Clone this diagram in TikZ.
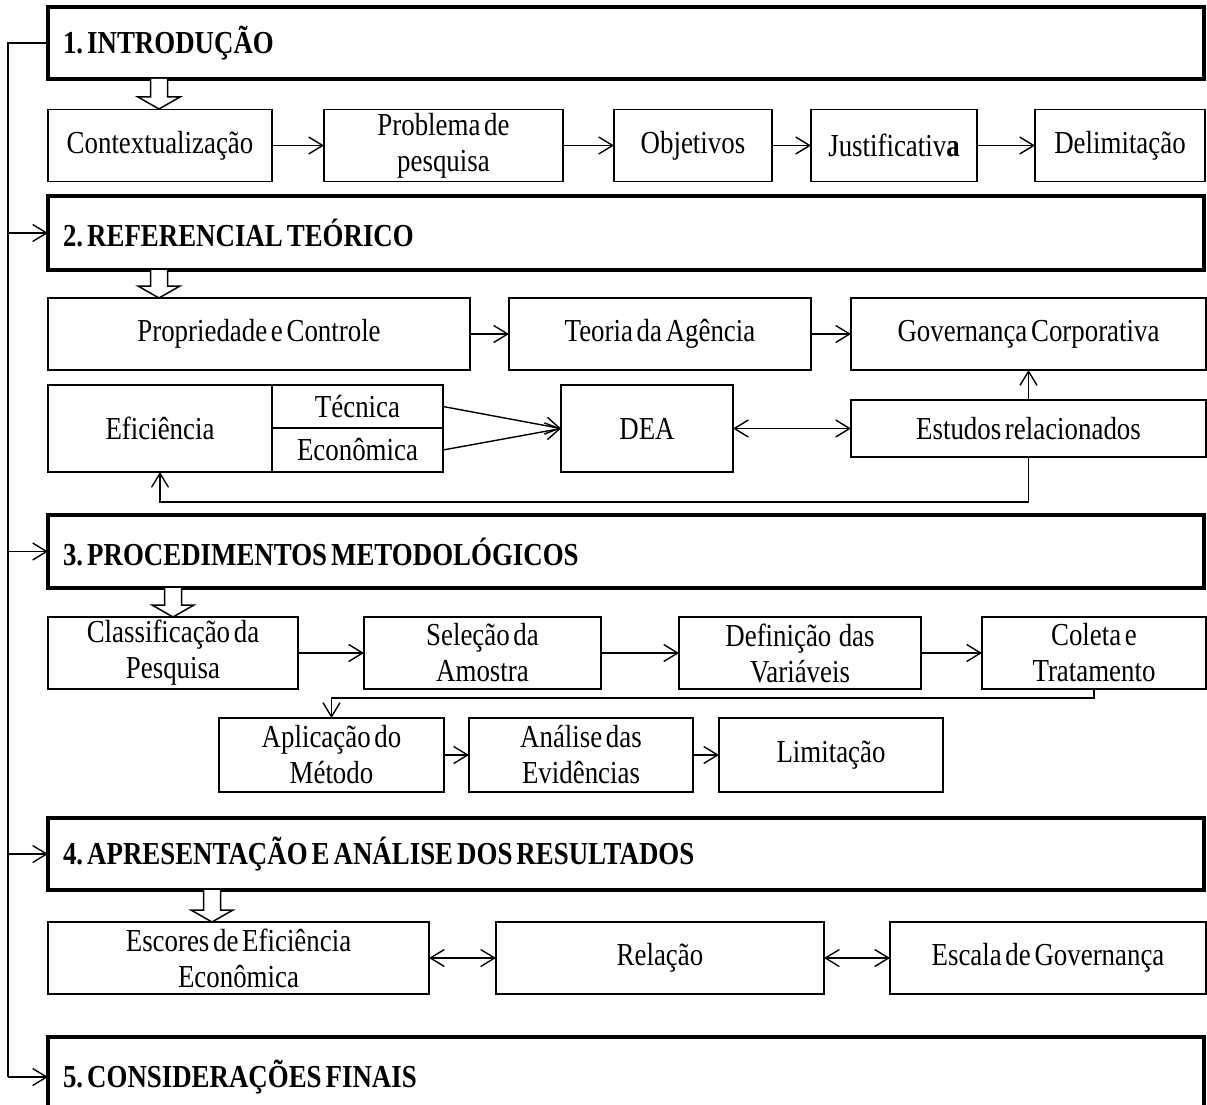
\documentclass[tikz,border=0pt]{standalone}
\usepackage{fontspec}
\setmainfont{Liberation Serif}[FakeStretch=0.84, WordSpace=0.55]
\newfontfamily\fontecabecalho{Liberation Serif}[FakeStretch=0.84, WordSpace=0.6,
  BoldFeatures={FakeStretch=0.84, WordSpace=0.6}]
\usepackage{tikz}
\usetikzlibrary{arrows.meta,calc}
\frenchspacing

\tikzset{
  etapa/.style={draw, line width=1.4pt, minimum height=72pt, inner sep=0pt, outer sep=0pt,
    align=center, font=\fontsize{32}{36}\selectfont},
  secao/.style={draw, line width=3.5pt, minimum width=1156pt, inner sep=0pt, outer sep=0pt,
    text width=1126pt, align=flush left, font=\fontsize{32}{34}\fontecabecalho\bfseries},
  seta/.style={-{Straight Barb[length=14pt,width=17pt,line width=1.4pt]}, line width=1.4pt},
  setadupla/.style={{Straight Barb[length=14pt,width=17pt,line width=1.4pt]}-{Straight Barb[length=14pt,width=17pt,line width=1.4pt]}, line width=1.4pt}
}
% hollow block arrow: x, y top, y tip
\newcommand{\setavazada}[3]{%
  \draw[line width=1.5pt, fill=white] (#1-8.5,#2) -- (#1-8.5,#3-12) -- (#1-21,#3-12) -- (#1,#3)
    -- (#1+21,#3-12) -- (#1+8.5,#3-12) -- (#1+8.5,#2);
}

\begin{document}
\begin{tikzpicture}[x=1pt, y=-1pt]
    \clip (0,0) rectangle (1207,1105);

    % Section headers
    \node[secao, minimum height=72pt] (h1) at (626,43) {1. INTRODUÇÃO};
    \node[secao, minimum height=74pt] (h2) at (626,233) {2. REFERENCIAL TEÓRICO};
    \node[secao, minimum height=73pt] (h3) at (626,551.5) {3. PROCEDIMENTOS METODOLÓGICOS};
    \node[secao, minimum height=72pt] (h4) at (626,854) {4. APRESENTAÇÃO E ANÁLISE DOS RESULTADOS};
    \node[secao, minimum height=80pt] (h5) at (626,1077) {5. CONSIDERAÇÕES FINAIS};

    % Left rail into the sections
    \coordinate (trilho) at (8,43);
    \draw[line width=1.4pt] (h1.west) -- (trilho) -- (trilho |- h5.west);
    \foreach \s in {h2,h3,h4,h5}
        \draw[seta] (trilho |- \s.west) -- (\s.west);

    % 1. Introducao
    \setavazada{159}{79}{109}
    \node[etapa, minimum width=224pt] (ctx) at (160,145.5) {Contextualização};
    \node[etapa, minimum width=239pt] (prob) at (443.5,145.5) {Problema de\\pesquisa};
    \node[etapa, minimum width=158pt] (obj) at (693,145.5) {Objetivos};
    \node[etapa, minimum width=166pt] (just) at (894,145.5) {Justificativ\textbf{a}};
    \node[etapa, minimum width=170pt] (delim) at (1120,145.5) {Delimitação};
    \draw[seta] (ctx) -- (prob);
    \draw[seta] (prob) -- (obj);
    \draw[seta] (obj) -- (just);
    \draw[seta] (just) -- (delim);

    % 2. Referencial teorico
    \setavazada{159}{270}{298}
    \node[etapa, minimum width=422pt] (prop) at (259,334) {Propriedade e Controle};
    \node[etapa, minimum width=302pt] (teoria) at (660,334) {Teoria da Agência};
    \node[etapa, minimum width=355pt] (gov) at (1028.5,334) {Governança Corporativa};
    \draw[seta] (prop) -- (teoria);
    \draw[seta] (teoria) -- (gov);

    \node[etapa, minimum width=224pt, minimum height=87pt] (efic) at (160,428.5) {Eficiência};
    \node[etapa, minimum width=171pt, minimum height=43pt] (tecnica) at (357.5,406.5) {Técnica};
    \node[etapa, minimum width=171pt, minimum height=44pt] (economica) at (357.5,450) {Econômica};
    \node[etapa, minimum width=172pt, minimum height=87pt] (dea) at (647,428.5) {DEA};
    \node[etapa, minimum width=355pt, minimum height=57pt] (estudos) at (1028.5,428.5) {Estudos relacionados};
    \draw[seta] (tecnica.east) -- (dea.west);
    \draw[seta] (economica.east) -- (dea.west);
    \draw[setadupla] (dea) -- (estudos);
    \draw[seta] (estudos) -- (gov);
    \draw[seta] (estudos.south) -- ++(0,45) -| (efic.south);

    % 3. Procedimentos metodologicos
    \setavazada{173}{588}{617}
    \node[etapa, minimum width=250pt] (classif) at (173,653) {Classificação da\\Pesquisa};
    \node[etapa, minimum width=237pt] (selecao) at (482.5,653) {Seleção da\\Amostra};
    \node[etapa, minimum width=242pt] (defin) at (800,653) {Definição\ \ das\\Variáveis};
    \node[etapa, minimum width=224pt] (coleta) at (1094,653) {Coleta e\\Tratamento};
    \draw[seta] (classif) -- (selecao);
    \draw[seta] (selecao) -- (defin);
    \draw[seta] (defin) -- (coleta);

    \node[etapa, minimum width=225pt, minimum height=74pt] (aplic) at (331.5,755) {Aplicação do\\Método};
    \node[etapa, minimum width=224pt, minimum height=74pt] (analise) at (581,755) {Análise das\\Evidências};
    \node[etapa, minimum width=224pt, minimum height=74pt] (limit) at (831,755) {Limitação};
    \draw[seta] (coleta.south) -- ++(0,9) -| (aplic.north);
    \draw[seta] (aplic) -- (analise);
    \draw[seta] (analise) -- (limit);

    % 4. Apresentacao e analise
    \setavazada{212}{890}{922}
    \node[etapa, minimum width=381pt] (escores) at (238.5,958) {Escores de Eficiência\\Econômica};
    \node[etapa, minimum width=328pt] (relacao) at (660,958) {Relação};
    \node[etapa, minimum width=316pt] (escala) at (1048,958) {Escala de Governança};
    \draw[setadupla] (escores) -- (relacao);
    \draw[setadupla] (relacao) -- (escala);
\end{tikzpicture}
\end{document}
